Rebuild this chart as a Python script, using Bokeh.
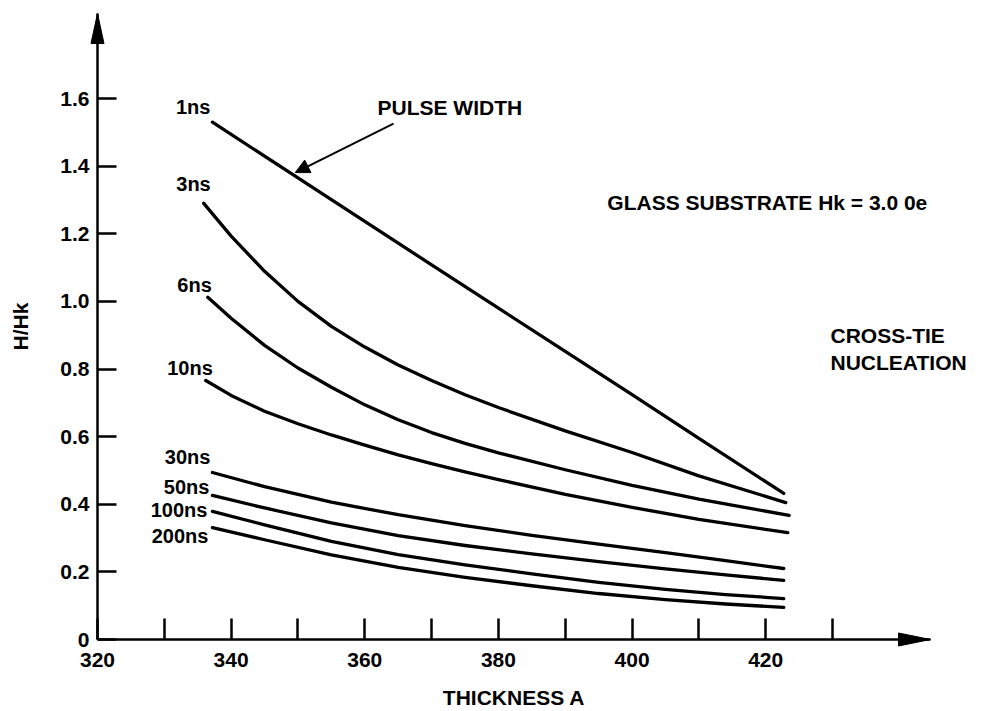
from bokeh.plotting import figure
from bokeh.models import FixedTicker, Arrow, NormalHead, ColumnDataSource
from bokeh.embed import file_html
from bokeh.resources import INLINE
from bokeh.core.properties import value

# ---------------- data ----------------
pulse_labels = ["1ns", "3ns", "6ns", "10ns", "30ns", "50ns", "100ns", "200ns"]

thickness_1ns = [337.2, 350, 360, 370, 380, 390, 400, 410, 422.7]
hhk_1ns = [1.530, 1.365, 1.237, 1.108, 0.980, 0.852, 0.724, 0.595, 0.432]

thickness_3ns = [335.9, 340, 345, 350, 355, 360, 365, 370, 375, 380, 390, 400, 410, 423.0]
hhk_3ns = [1.290, 1.193, 1.089, 1.000, 0.926, 0.865, 0.812, 0.766, 0.724, 0.686, 0.617, 0.553, 0.484, 0.405]

thickness_6ns = [336.5, 340, 345, 350, 355, 360, 365, 370, 375, 380, 390, 400, 410, 423.5]
hhk_6ns = [1.012, 0.950, 0.870, 0.803, 0.746, 0.694, 0.650, 0.612, 0.580, 0.552, 0.502, 0.456, 0.415, 0.367]

thickness_10ns = [336.2, 340, 345, 350, 355, 360, 365, 370, 375, 380, 390, 400, 410, 423.3]
hhk_10ns = [0.766, 0.722, 0.675, 0.638, 0.605, 0.575, 0.546, 0.520, 0.496, 0.473, 0.429, 0.391, 0.355, 0.316]

thickness_long = [337.2, 345, 355, 365, 375, 385, 395, 405, 414, 422.7]
hhk_30ns = [0.494, 0.452, 0.406, 0.369, 0.337, 0.308, 0.282, 0.257, 0.233, 0.210]
hhk_50ns = [0.426, 0.389, 0.345, 0.307, 0.278, 0.253, 0.230, 0.209, 0.191, 0.175]
hhk_100ns = [0.379, 0.339, 0.290, 0.251, 0.221, 0.194, 0.169, 0.148, 0.133, 0.121]
hhk_200ns = [0.331, 0.295, 0.250, 0.213, 0.184, 0.159, 0.136, 0.118, 0.105, 0.095]

x_ticks = [320, 330, 340, 350, 360, 370, 380, 390, 400, 410, 420, 430]
x_tick_labels = ["320", "", "340", "", "360", "", "380", "", "400", "", "420", ""]
y_ticks = [0, 0.2, 0.4, 0.6, 0.8, 1.0, 1.2, 1.4, 1.6]
y_tick_labels = ["0", "0.2", "0.4", "0.6", "0.8", "1.0", "1.2", "1.4", "1.6"]

notes = ["PULSE WIDTH", "GLASS SUBSTRATE Hk = 3.0 0e", "CROSS-TIE", "NUCLEATION"]

# ---------------- layout / style ----------------
FONT = "Liberation Sans"
X_START, X_END = 320, 444.66
Y_START, Y_END = 0, 1.8515
PX_PER_X = 6.682   # pixels per thickness unit
PX_PER_Y = 338.1   # pixels per H/Hk unit

series = [
    (thickness_1ns, hhk_1ns), (thickness_3ns, hhk_3ns), (thickness_6ns, hhk_6ns),
    (thickness_10ns, hhk_10ns), (thickness_long, hhk_30ns), (thickness_long, hhk_50ns),
    (thickness_long, hhk_100ns), (thickness_long, hhk_200ns),
]
label_dx = [-2, 7, 4, 7, -2, -3, -5, -4]
label_dy = [-15, -19, -12, -13, -15, -8, -1, 8]
note_x = [361.9, 396.3, 429.7, 429.7]
note_y = [1.573, 1.293, 0.899, 0.819]

p = figure(width=984, height=711, x_range=(X_START, X_END), y_range=(Y_START, Y_END),
           output_backend="svg", toolbar_location=None,
           min_border_left=97, min_border_right=54, min_border_top=13, min_border_bottom=72)
p.outline_line_color = None
p.grid.visible = False
p.background_fill_color = "white"
p.border_fill_color = "white"

for xs, ys in series:
    p.line(xs, ys, line_width=3.3, line_color="black", line_cap="round", line_join="round")

lab_src = ColumnDataSource(dict(
    x=[s[0][0] for s in series], y=[s[1][0] for s in series],
    text=pulse_labels, dx=label_dx, dy=label_dy))
p.text(x="x", y="y", text="text", x_offset="dx", y_offset="dy", source=lab_src,
       text_align="right", text_baseline="middle", text_font=value(FONT),
       text_font_style="bold", text_font_size="20px", text_color="black", level="overlay")

# axes
xa = p.xaxis[0]
xa.ticker = FixedTicker(ticks=x_ticks)
xa.major_label_overrides = dict(zip(x_ticks, x_tick_labels))
ya = p.yaxis[0]
ya.ticker = FixedTicker(ticks=y_ticks)
ya.major_label_overrides = dict(zip(y_ticks, y_tick_labels))
for ax in (xa, ya):
    ax.axis_line_width = 2.5
    ax.axis_line_color = "black"
    ax.major_tick_line_width = 2.5
    ax.major_tick_line_color = "black"
    ax.major_tick_out = 0
    ax.minor_tick_in = 0
    ax.minor_tick_out = 0
    ax.major_label_text_font = FONT
    ax.major_label_text_font_style = "bold"
    ax.major_label_text_font_size = "21px"
    ax.major_label_text_color = "black"
    ax.axis_label_text_font = FONT
    ax.axis_label_text_font_style = "bold"
    ax.axis_label_text_font_size = "21px"
    ax.axis_label_text_color = "black"
xa.major_tick_in = 21
ya.major_tick_in = 19
xa.major_label_standoff = 13
ya.major_label_standoff = 8
xa.axis_label = "THICKNESS A"
xa.axis_label_standoff = 16
ya.axis_label = "H/Hk"
ya.axis_label_standoff = 25

# arrow heads on the axes
hl_x, hw_x = 32 / PX_PER_X, 6.5 / PX_PER_Y
p.patch([X_END, X_END - hl_x, X_END - hl_x], [Y_START, Y_START + hw_x, Y_START - hw_x],
        fill_color="black", line_color="black", level="overlay")
hl_y, hw_y = 30 / PX_PER_Y, 6.5 / PX_PER_X
p.patch([X_START, X_START - hw_y, X_START + hw_y], [Y_END, Y_END - hl_y, Y_END - hl_y],
        fill_color="black", line_color="black", level="overlay")

# annotations
p.add_layout(Arrow(end=NormalHead(size=14, fill_color="black", line_color="black"),
                   x_start=364.3, y_start=1.526, x_end=349.6, y_end=1.381,
                   line_width=2, line_color="black"))

p.text(x=note_x, y=note_y, text=notes, text_align="left", text_baseline="middle",
       text_font=value(FONT), text_font_style="bold", text_font_size="21px",
       text_color="black", level="overlay")

open("out.html", "w").write(file_html(p, INLINE))
